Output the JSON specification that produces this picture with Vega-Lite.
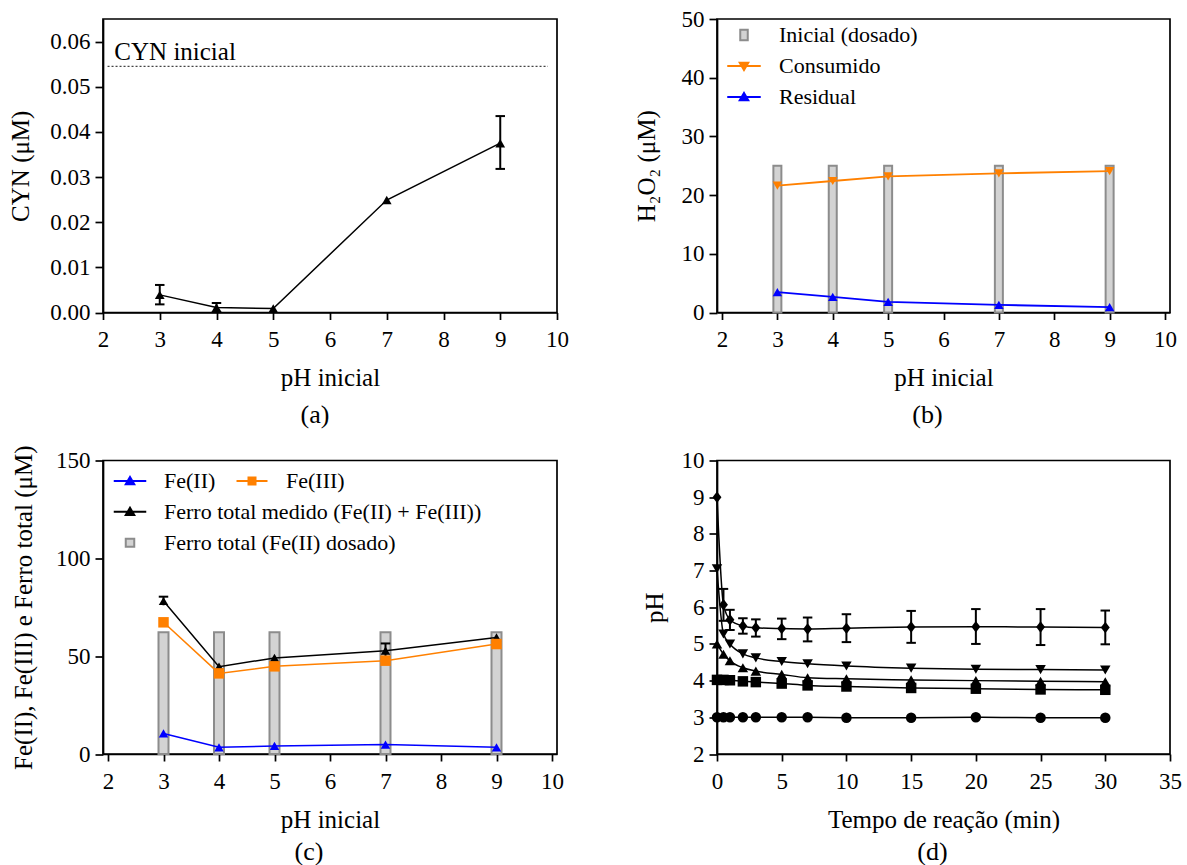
{
  "$schema": "https://vega.github.io/schema/vega-lite/v6.json",
  "background": "white",
  "padding": {"left": 7, "top": 7, "right": 10, "bottom": 0},
  "columns": 2,
  "bounds": "flush",
  "spacing": {"row": 147.5, "column": 160},
  "resolve": {
    "scale": {"fill": "independent", "stroke": "independent", "shape": "independent"},
    "legend": {"fill": "independent", "stroke": "independent", "shape": "independent"}
  },
  "datasets": {
    "a_pts": [
      {"ph": 3, "cyn": 0.0039},
      {"ph": 4, "cyn": 0.0011},
      {"ph": 5, "cyn": 0.0009},
      {"ph": 7, "cyn": 0.0249},
      {"ph": 9, "cyn": 0.0375}
    ],
    "a_err": [
      {"ph": 3, "lo": 0.0018, "hi": 0.0061},
      {"ph": 4, "lo": 0.0001, "hi": 0.0021},
      {"ph": 9, "lo": 0.0318, "hi": 0.0435}
    ],
    "a_ref": [
      {"label": "CYN inicial", "cyn": 0.0545, "x0": 2.08, "x1": 9.84, "xt": 2.2}
    ],
    "b_bars": [
      {"ph": 3, "v": 25}, {"ph": 4, "v": 25}, {"ph": 5, "v": 25}, {"ph": 7, "v": 25}, {"ph": 9, "v": 25}
    ],
    "b_pts": [
      {"ph": 3, "cons": 21.6, "res": 3.46},
      {"ph": 4, "cons": 22.4, "res": 2.66},
      {"ph": 5, "cons": 23.2, "res": 1.8},
      {"ph": 7, "cons": 23.7, "res": 1.3},
      {"ph": 9, "cons": 24.1, "res": 0.9}
    ],
    "b_leg": [
      {"serie": "Inicial (dosado)"}, {"serie": "Consumido"}, {"serie": "Residual"}
    ],
    "c_bars": [
      {"ph": 3, "v": 62.2}, {"ph": 4, "v": 62.2}, {"ph": 5, "v": 62.2}, {"ph": 7, "v": 62.2}, {"ph": 9, "v": 62.2}
    ],
    "c_pts": [
      {"ph": 3, "fe2": 10.5, "fe3": 67.3, "total": 78.2},
      {"ph": 4, "fe2": 3.4, "fe3": 41.2, "total": 44.6},
      {"ph": 5, "fe2": 4.1, "fe3": 44.8, "total": 49.1},
      {"ph": 7, "fe2": 4.8, "fe3": 47.7, "total": 52.8},
      {"ph": 9, "fe2": 3.4, "fe3": 56.2, "total": 59.6}
    ],
    "c_err": [
      {"ph": 3, "lo": 76.0, "hi": 80.4},
      {"ph": 7, "lo": 49.1, "hi": 56.5}
    ],
    "c_leg1": [{"serie": "Fe(II)"}, {"serie": "Fe(III)"}],
    "c_leg2": [{"serie2": "Ferro total medido (Fe(II) + Fe(III))"}, {"serie2": "Ferro total (Fe(II) dosado)"}],
    "d_pts": [
      {"t": 0, "ph": 3.0, "serie": "pH 3"}, {"t": 0.5, "ph": 3.0, "serie": "pH 3"}, {"t": 1, "ph": 3.0, "serie": "pH 3"}, {"t": 2, "ph": 3.0, "serie": "pH 3"}, {"t": 3, "ph": 3.0, "serie": "pH 3"}, {"t": 5, "ph": 3.0, "serie": "pH 3"}, {"t": 7, "ph": 3.0, "serie": "pH 3"}, {"t": 10, "ph": 2.99, "serie": "pH 3"}, {"t": 15, "ph": 2.99, "serie": "pH 3"}, {"t": 20, "ph": 3.0, "serie": "pH 3"}, {"t": 25, "ph": 2.99, "serie": "pH 3"}, {"t": 30, "ph": 2.99, "serie": "pH 3"},
      {"t": 0, "ph": 4.02, "serie": "pH 4"}, {"t": 0.5, "ph": 4.02, "serie": "pH 4"}, {"t": 1, "ph": 4.01, "serie": "pH 4"}, {"t": 2, "ph": 3.98, "serie": "pH 4"}, {"t": 3, "ph": 3.96, "serie": "pH 4"}, {"t": 5, "ph": 3.92, "serie": "pH 4"}, {"t": 7, "ph": 3.87, "serie": "pH 4"}, {"t": 10, "ph": 3.84, "serie": "pH 4"}, {"t": 15, "ph": 3.8, "serie": "pH 4"}, {"t": 20, "ph": 3.78, "serie": "pH 4"}, {"t": 25, "ph": 3.76, "serie": "pH 4"}, {"t": 30, "ph": 3.75, "serie": "pH 4"},
      {"t": 0, "ph": 5.0, "serie": "pH 5"}, {"t": 0.5, "ph": 4.72, "serie": "pH 5"}, {"t": 1, "ph": 4.54, "serie": "pH 5"}, {"t": 2, "ph": 4.35, "serie": "pH 5"}, {"t": 3, "ph": 4.26, "serie": "pH 5"}, {"t": 5, "ph": 4.17, "serie": "pH 5"}, {"t": 7, "ph": 4.08, "serie": "pH 5"}, {"t": 10, "ph": 4.05, "serie": "pH 5"}, {"t": 15, "ph": 4.02, "serie": "pH 5"}, {"t": 20, "ph": 4.0, "serie": "pH 5"}, {"t": 25, "ph": 3.98, "serie": "pH 5"}, {"t": 30, "ph": 3.97, "serie": "pH 5"},
      {"t": 0, "ph": 7.05, "serie": "pH 7"}, {"t": 0.5, "ph": 5.27, "serie": "pH 7"}, {"t": 1, "ph": 5.0, "serie": "pH 7"}, {"t": 2, "ph": 4.73, "serie": "pH 7"}, {"t": 3, "ph": 4.62, "serie": "pH 7"}, {"t": 5, "ph": 4.52, "serie": "pH 7"}, {"t": 7, "ph": 4.46, "serie": "pH 7"}, {"t": 10, "ph": 4.4, "serie": "pH 7"}, {"t": 15, "ph": 4.34, "serie": "pH 7"}, {"t": 20, "ph": 4.31, "serie": "pH 7"}, {"t": 25, "ph": 4.3, "serie": "pH 7"}, {"t": 30, "ph": 4.29, "serie": "pH 7"},
      {"t": 0, "ph": 9.0, "serie": "pH 9"}, {"t": 0.5, "ph": 6.07, "serie": "pH 9"}, {"t": 1, "ph": 5.66, "serie": "pH 9"}, {"t": 2, "ph": 5.49, "serie": "pH 9"}, {"t": 3, "ph": 5.44, "serie": "pH 9"}, {"t": 5, "ph": 5.42, "serie": "pH 9"}, {"t": 7, "ph": 5.41, "serie": "pH 9"}, {"t": 10, "ph": 5.43, "serie": "pH 9"}, {"t": 15, "ph": 5.46, "serie": "pH 9"}, {"t": 20, "ph": 5.47, "serie": "pH 9"}, {"t": 25, "ph": 5.46, "serie": "pH 9"}, {"t": 30, "ph": 5.45, "serie": "pH 9"}
    ],
    "d_err": [
      {"t": 0.5, "lo": 5.63, "hi": 6.5},
      {"t": 1, "lo": 5.38, "hi": 5.93},
      {"t": 2, "lo": 5.28, "hi": 5.7},
      {"t": 3, "lo": 5.2, "hi": 5.67},
      {"t": 5, "lo": 5.13, "hi": 5.69},
      {"t": 7, "lo": 5.07, "hi": 5.72},
      {"t": 10, "lo": 5.05, "hi": 5.81},
      {"t": 15, "lo": 5.03, "hi": 5.9},
      {"t": 20, "lo": 5.0, "hi": 5.95},
      {"t": 25, "lo": 4.97, "hi": 5.95},
      {"t": 30, "lo": 4.99, "hi": 5.91}
    ]
  },
  "concat": [
    {
      "width": 454,
      "height": 293.5,
      "title": {"text": "(a)", "dx": -15},
      "layer": [
        {
          "data": {"name": "a_ref"},
          "mark": {"type": "rule", "strokeDash": [2, 2], "strokeWidth": 1.2, "color": "#444444"},
          "encoding": {
            "x": {"field": "x0", "type": "quantitative", "title": "pH inicial", "scale": {"domain": [2, 10], "nice": false, "zero": false}, "axis": {"values": [2, 3, 4, 5, 6, 7, 8, 9, 10], "format": "d"}},
            "x2": {"field": "x1"},
            "y": {"field": "cyn", "type": "quantitative", "title": "CYN (μM)", "scale": {"domain": [0, 0.065], "nice": false}, "axis": {"values": [0, 0.01, 0.02, 0.03, 0.04, 0.05, 0.06], "format": ".2f", "titlePadding": 16.5}}
          }
        },
        {
          "data": {"name": "a_ref"},
          "mark": {"type": "text", "align": "left", "baseline": "alphabetic", "dy": -6.5, "fontSize": 25, "font": "Liberation Serif", "color": "black"},
          "encoding": {
            "x": {"field": "xt", "type": "quantitative", "title": "pH inicial", "scale": {"domain": [2, 10], "nice": false, "zero": false}, "axis": {"values": [2, 3, 4, 5, 6, 7, 8, 9, 10], "format": "d"}},
            "y": {"field": "cyn", "type": "quantitative", "title": "CYN (μM)", "scale": {"domain": [0, 0.065], "nice": false}, "axis": {"values": [0, 0.01, 0.02, 0.03, 0.04, 0.05, 0.06], "format": ".2f", "titlePadding": 16.5}},
            "text": {"field": "label"}
          }
        },
        {
          "data": {"name": "a_err"},
          "mark": {"type": "rule", "color": "black", "strokeWidth": 2},
          "encoding": {
            "x": {"field": "ph", "type": "quantitative", "title": "pH inicial", "scale": {"domain": [2, 10], "nice": false, "zero": false}, "axis": {"values": [2, 3, 4, 5, 6, 7, 8, 9, 10], "format": "d"}},
            "y": {"field": "lo", "type": "quantitative", "title": "CYN (μM)", "scale": {"domain": [0, 0.065], "nice": false}, "axis": {"values": [0, 0.01, 0.02, 0.03, 0.04, 0.05, 0.06], "format": ".2f", "titlePadding": 16.5}},
            "y2": {"field": "hi"}
          }
        },
        {
          "data": {"name": "a_err"},
          "mark": {"type": "point", "shape": "stroke", "size": 90, "color": "black", "strokeWidth": 2, "filled": false, "opacity": 1},
          "encoding": {
            "x": {"field": "ph", "type": "quantitative", "title": "pH inicial", "scale": {"domain": [2, 10], "nice": false, "zero": false}, "axis": {"values": [2, 3, 4, 5, 6, 7, 8, 9, 10], "format": "d"}},
            "y": {"field": "lo", "type": "quantitative", "title": "CYN (μM)", "scale": {"domain": [0, 0.065], "nice": false}, "axis": {"values": [0, 0.01, 0.02, 0.03, 0.04, 0.05, 0.06], "format": ".2f", "titlePadding": 16.5}}
          }
        },
        {
          "data": {"name": "a_err"},
          "mark": {"type": "point", "shape": "stroke", "size": 90, "color": "black", "strokeWidth": 2, "filled": false, "opacity": 1},
          "encoding": {
            "x": {"field": "ph", "type": "quantitative", "title": "pH inicial", "scale": {"domain": [2, 10], "nice": false, "zero": false}, "axis": {"values": [2, 3, 4, 5, 6, 7, 8, 9, 10], "format": "d"}},
            "y": {"field": "hi", "type": "quantitative", "title": "CYN (μM)", "scale": {"domain": [0, 0.065], "nice": false}, "axis": {"values": [0, 0.01, 0.02, 0.03, 0.04, 0.05, 0.06], "format": ".2f", "titlePadding": 16.5}}
          }
        },
        {
          "data": {"name": "a_pts"},
          "mark": {"type": "line", "color": "black", "strokeWidth": 1.5},
          "encoding": {
            "x": {"field": "ph", "type": "quantitative", "title": "pH inicial", "scale": {"domain": [2, 10], "nice": false, "zero": false}, "axis": {"values": [2, 3, 4, 5, 6, 7, 8, 9, 10], "format": "d"}},
            "y": {"field": "cyn", "type": "quantitative", "title": "CYN (μM)", "scale": {"domain": [0, 0.065], "nice": false}, "axis": {"values": [0, 0.01, 0.02, 0.03, 0.04, 0.05, 0.06], "format": ".2f", "titlePadding": 16.5}}
          }
        },
        {
          "data": {"name": "a_pts"},
          "mark": {"type": "point", "shape": "triangle-up", "filled": true, "size": 95, "color": "black", "opacity": 1},
          "encoding": {
            "x": {"field": "ph", "type": "quantitative", "title": "pH inicial", "scale": {"domain": [2, 10], "nice": false, "zero": false}, "axis": {"values": [2, 3, 4, 5, 6, 7, 8, 9, 10], "format": "d"}},
            "y": {"field": "cyn", "type": "quantitative", "title": "CYN (μM)", "scale": {"domain": [0, 0.065], "nice": false}, "axis": {"values": [0, 0.01, 0.02, 0.03, 0.04, 0.05, 0.06], "format": ".2f", "titlePadding": 16.5}}
          }
        }
      ]
    },
    {
      "width": 453,
      "height": 293.5,
      "title": {"text": "(b)", "dx": -16},
      "layer": [
        {
          "data": {"name": "b_bars"},
          "mark": {"type": "bar", "width": 8, "fill": "#d3d3d3", "stroke": "#8c8c8c", "strokeWidth": 2},
          "encoding": {
            "x": {"field": "ph", "type": "quantitative", "title": "pH inicial", "scale": {"domain": [2, 10], "nice": false, "zero": false}, "axis": {"values": [2, 3, 4, 5, 6, 7, 8, 9, 10], "format": "d"}},
            "y": {"field": "v", "type": "quantitative", "title": "H₂O₂ (μM)", "scale": {"domain": [0, 50], "nice": false}, "axis": {"values": [0, 10, 20, 30, 40, 50], "format": "d", "titlePadding": 22}}
          }
        },
        {
          "data": {"name": "b_pts"},
          "mark": {"type": "line", "color": "#ff8000", "strokeWidth": 1.8},
          "encoding": {
            "x": {"field": "ph", "type": "quantitative", "title": "pH inicial", "scale": {"domain": [2, 10], "nice": false, "zero": false}, "axis": {"values": [2, 3, 4, 5, 6, 7, 8, 9, 10], "format": "d"}},
            "y": {"field": "cons", "type": "quantitative", "title": "H₂O₂ (μM)", "scale": {"domain": [0, 50], "nice": false}, "axis": {"values": [0, 10, 20, 30, 40, 50], "format": "d", "titlePadding": 22}}
          }
        },
        {
          "data": {"name": "b_pts"},
          "mark": {"type": "point", "shape": "triangle-down", "filled": true, "size": 90, "color": "#ff8000", "opacity": 1},
          "encoding": {
            "x": {"field": "ph", "type": "quantitative", "title": "pH inicial", "scale": {"domain": [2, 10], "nice": false, "zero": false}, "axis": {"values": [2, 3, 4, 5, 6, 7, 8, 9, 10], "format": "d"}},
            "y": {"field": "cons", "type": "quantitative", "title": "H₂O₂ (μM)", "scale": {"domain": [0, 50], "nice": false}, "axis": {"values": [0, 10, 20, 30, 40, 50], "format": "d", "titlePadding": 22}}
          }
        },
        {
          "data": {"name": "b_pts"},
          "mark": {"type": "line", "color": "#0000ff", "strokeWidth": 1.8},
          "encoding": {
            "x": {"field": "ph", "type": "quantitative", "title": "pH inicial", "scale": {"domain": [2, 10], "nice": false, "zero": false}, "axis": {"values": [2, 3, 4, 5, 6, 7, 8, 9, 10], "format": "d"}},
            "y": {"field": "res", "type": "quantitative", "title": "H₂O₂ (μM)", "scale": {"domain": [0, 50], "nice": false}, "axis": {"values": [0, 10, 20, 30, 40, 50], "format": "d", "titlePadding": 22}}
          }
        },
        {
          "data": {"name": "b_pts"},
          "mark": {"type": "point", "shape": "triangle-up", "filled": true, "size": 90, "color": "#0000ff", "opacity": 1},
          "encoding": {
            "x": {"field": "ph", "type": "quantitative", "title": "pH inicial", "scale": {"domain": [2, 10], "nice": false, "zero": false}, "axis": {"values": [2, 3, 4, 5, 6, 7, 8, 9, 10], "format": "d"}},
            "y": {"field": "res", "type": "quantitative", "title": "H₂O₂ (μM)", "scale": {"domain": [0, 50], "nice": false}, "axis": {"values": [0, 10, 20, 30, 40, 50], "format": "d", "titlePadding": 22}}
          }
        },
        {
          "data": {"name": "b_leg"},
          "mark": {"type": "point", "filled": true, "opacity": 0},
          "encoding": {
            "fill": {"field": "serie", "type": "nominal", "scale": {"domain": ["Inicial (dosado)", "Consumido", "Residual"], "range": ["#d3d3d3", "#ff8000", "#0000ff"]}, "legend": {"title": null, "orient": "none", "legendX": 16, "legendY": 5, "direction": "vertical", "labelOffset": 24}},
            "stroke": {"field": "serie", "type": "nominal", "scale": {"domain": ["Inicial (dosado)", "Consumido", "Residual"], "range": ["#8c8c8c", "#ff8000", "#0000ff"]}, "legend": {"title": null, "orient": "none", "legendX": 16, "legendY": 5, "direction": "vertical", "labelOffset": 24}},
            "shape": {"field": "serie", "type": "nominal", "scale": {"domain": ["Inicial (dosado)", "Consumido", "Residual"], "range": ["M-0.75,-1.05H0.75V1.05H-0.75Z", "M-3.35,0H3.35M-0.85,-0.65H0.85L0,0.8Z", "M-3.35,0H3.35M0,-0.8L0.85,0.65H-0.85Z"]}, "legend": {"title": null, "orient": "none", "legendX": 16, "legendY": 5, "direction": "vertical", "labelOffset": 24}}
          }
        }
      ]
    },
    {
      "width": 454,
      "height": 293.5,
      "title": {"text": "(c)", "dx": -21, "offset": 7},
      "resolve": {
        "scale": {"fill": "independent", "stroke": "independent", "shape": "independent"},
        "legend": {"fill": "independent", "stroke": "independent", "shape": "independent"}
      },
      "layer": [
        {
          "data": {"name": "c_bars"},
          "mark": {"type": "bar", "width": 10, "fill": "#d3d3d3", "stroke": "#8c8c8c", "strokeWidth": 2},
          "encoding": {
            "x": {"field": "ph", "type": "quantitative", "title": "pH inicial", "scale": {"domain": [2, 10], "nice": false, "zero": false}, "axis": {"values": [2, 3, 4, 5, 6, 7, 8, 9, 10], "format": "d"}},
            "y": {"field": "v", "type": "quantitative", "title": "Fe(II), Fe(III) e Ferro total (μM)", "scale": {"domain": [0, 150], "nice": false}, "axis": {"values": [0, 50, 100, 150], "format": "d", "titlePadding": 19}}
          }
        },
        {
          "data": {"name": "c_err"},
          "mark": {"type": "rule", "color": "black", "strokeWidth": 2},
          "encoding": {
            "x": {"field": "ph", "type": "quantitative", "title": "pH inicial", "scale": {"domain": [2, 10], "nice": false, "zero": false}, "axis": {"values": [2, 3, 4, 5, 6, 7, 8, 9, 10], "format": "d"}},
            "y": {"field": "lo", "type": "quantitative", "title": "Fe(II), Fe(III) e Ferro total (μM)", "scale": {"domain": [0, 150], "nice": false}, "axis": {"values": [0, 50, 100, 150], "format": "d", "titlePadding": 19}},
            "y2": {"field": "hi"}
          }
        },
        {
          "data": {"name": "c_err"},
          "mark": {"type": "point", "shape": "stroke", "size": 90, "color": "black", "strokeWidth": 2, "filled": false, "opacity": 1},
          "encoding": {
            "x": {"field": "ph", "type": "quantitative", "title": "pH inicial", "scale": {"domain": [2, 10], "nice": false, "zero": false}, "axis": {"values": [2, 3, 4, 5, 6, 7, 8, 9, 10], "format": "d"}},
            "y": {"field": "hi", "type": "quantitative", "title": "Fe(II), Fe(III) e Ferro total (μM)", "scale": {"domain": [0, 150], "nice": false}, "axis": {"values": [0, 50, 100, 150], "format": "d", "titlePadding": 19}}
          }
        },
        {
          "data": {"name": "c_pts"},
          "mark": {"type": "line", "color": "black", "strokeWidth": 1.5},
          "encoding": {
            "x": {"field": "ph", "type": "quantitative", "title": "pH inicial", "scale": {"domain": [2, 10], "nice": false, "zero": false}, "axis": {"values": [2, 3, 4, 5, 6, 7, 8, 9, 10], "format": "d"}},
            "y": {"field": "total", "type": "quantitative", "title": "Fe(II), Fe(III) e Ferro total (μM)", "scale": {"domain": [0, 150], "nice": false}, "axis": {"values": [0, 50, 100, 150], "format": "d", "titlePadding": 19}}
          }
        },
        {
          "data": {"name": "c_pts"},
          "mark": {"type": "point", "shape": "triangle-up", "filled": true, "size": 90, "color": "black", "opacity": 1},
          "encoding": {
            "x": {"field": "ph", "type": "quantitative", "title": "pH inicial", "scale": {"domain": [2, 10], "nice": false, "zero": false}, "axis": {"values": [2, 3, 4, 5, 6, 7, 8, 9, 10], "format": "d"}},
            "y": {"field": "total", "type": "quantitative", "title": "Fe(II), Fe(III) e Ferro total (μM)", "scale": {"domain": [0, 150], "nice": false}, "axis": {"values": [0, 50, 100, 150], "format": "d", "titlePadding": 19}}
          }
        },
        {
          "data": {"name": "c_pts"},
          "mark": {"type": "line", "color": "#ff8000", "strokeWidth": 1.5},
          "encoding": {
            "x": {"field": "ph", "type": "quantitative", "title": "pH inicial", "scale": {"domain": [2, 10], "nice": false, "zero": false}, "axis": {"values": [2, 3, 4, 5, 6, 7, 8, 9, 10], "format": "d"}},
            "y": {"field": "fe3", "type": "quantitative", "title": "Fe(II), Fe(III) e Ferro total (μM)", "scale": {"domain": [0, 150], "nice": false}, "axis": {"values": [0, 50, 100, 150], "format": "d", "titlePadding": 19}}
          }
        },
        {
          "data": {"name": "c_pts"},
          "mark": {"type": "point", "shape": "square", "filled": true, "size": 110, "color": "#ff8000", "opacity": 1},
          "encoding": {
            "x": {"field": "ph", "type": "quantitative", "title": "pH inicial", "scale": {"domain": [2, 10], "nice": false, "zero": false}, "axis": {"values": [2, 3, 4, 5, 6, 7, 8, 9, 10], "format": "d"}},
            "y": {"field": "fe3", "type": "quantitative", "title": "Fe(II), Fe(III) e Ferro total (μM)", "scale": {"domain": [0, 150], "nice": false}, "axis": {"values": [0, 50, 100, 150], "format": "d", "titlePadding": 19}}
          }
        },
        {
          "data": {"name": "c_pts"},
          "mark": {"type": "line", "color": "#0000ff", "strokeWidth": 1.5},
          "encoding": {
            "x": {"field": "ph", "type": "quantitative", "title": "pH inicial", "scale": {"domain": [2, 10], "nice": false, "zero": false}, "axis": {"values": [2, 3, 4, 5, 6, 7, 8, 9, 10], "format": "d"}},
            "y": {"field": "fe2", "type": "quantitative", "title": "Fe(II), Fe(III) e Ferro total (μM)", "scale": {"domain": [0, 150], "nice": false}, "axis": {"values": [0, 50, 100, 150], "format": "d", "titlePadding": 19}}
          }
        },
        {
          "data": {"name": "c_pts"},
          "mark": {"type": "point", "shape": "triangle-up", "filled": true, "size": 90, "color": "#0000ff", "opacity": 1},
          "encoding": {
            "x": {"field": "ph", "type": "quantitative", "title": "pH inicial", "scale": {"domain": [2, 10], "nice": false, "zero": false}, "axis": {"values": [2, 3, 4, 5, 6, 7, 8, 9, 10], "format": "d"}},
            "y": {"field": "fe2", "type": "quantitative", "title": "Fe(II), Fe(III) e Ferro total (μM)", "scale": {"domain": [0, 150], "nice": false}, "axis": {"values": [0, 50, 100, 150], "format": "d", "titlePadding": 19}}
          }
        },
        {
          "data": {"name": "c_leg1"},
          "mark": {"type": "point", "filled": true, "opacity": 0},
          "encoding": {
            "fill": {"field": "serie", "type": "nominal", "scale": {"domain": ["Fe(II)", "Fe(III)"], "range": ["#0000ff", "#ff8000"]}, "legend": {"title": null, "orient": "none", "legendX": 16, "legendY": 9.5, "direction": "horizontal", "columnPadding": 16, "labelOffset": 23}},
            "stroke": {"field": "serie", "type": "nominal", "scale": {"domain": ["Fe(II)", "Fe(III)"], "range": ["#0000ff", "#ff8000"]}, "legend": {"title": null, "orient": "none", "legendX": 16, "legendY": 9.5, "direction": "horizontal", "columnPadding": 16, "labelOffset": 23}},
            "shape": {"field": "serie", "type": "nominal", "scale": {"domain": ["Fe(II)", "Fe(III)"], "range": ["M-3.25,0H3.25M0,-0.8L0.85,0.65H-0.85Z", "M-3.1,0H3.1M-0.7,-0.7H0.7V0.7H-0.7Z"]}, "legend": {"title": null, "orient": "none", "legendX": 16, "legendY": 9.5, "direction": "horizontal", "columnPadding": 16, "labelOffset": 23}}
          }
        },
        {
          "data": {"name": "c_leg2"},
          "mark": {"type": "point", "filled": true, "opacity": 0},
          "encoding": {
            "fill": {"field": "serie2", "type": "nominal", "scale": {"domain": ["Ferro total medido (Fe(II) + Fe(III))", "Ferro total (Fe(II) dosado)"], "range": ["black", "#d3d3d3"]}, "legend": {"title": null, "orient": "none", "legendX": 16, "legendY": 40.3, "direction": "vertical", "labelOffset": 23}},
            "stroke": {"field": "serie2", "type": "nominal", "scale": {"domain": ["Ferro total medido (Fe(II) + Fe(III))", "Ferro total (Fe(II) dosado)"], "range": ["black", "#8c8c8c"]}, "legend": {"title": null, "orient": "none", "legendX": 16, "legendY": 40.3, "direction": "vertical", "labelOffset": 23}},
            "shape": {"field": "serie2", "type": "nominal", "scale": {"domain": ["Ferro total medido (Fe(II) + Fe(III))", "Ferro total (Fe(II) dosado)"], "range": ["M-3.25,0H3.25M0,-0.8L0.85,0.65H-0.85Z", "M-0.85,-0.8H0.85V0.8H-0.85Z"]}, "legend": {"title": null, "orient": "none", "legendX": 16, "legendY": 40.3, "direction": "vertical", "labelOffset": 23}}
          }
        }
      ]
    },
    {
      "width": 453,
      "height": 293.5,
      "title": {"text": "(d)", "dx": -11, "offset": 7},
      "layer": [
        {
          "data": {"name": "d_pts"},
          "mark": {"type": "line", "color": "black", "strokeWidth": 1.5, "interpolate": "monotone"},
          "encoding": {
            "x": {"field": "t", "type": "quantitative", "title": "Tempo de reação (min)", "scale": {"domain": [0, 35], "nice": false, "zero": false}, "axis": {"values": [0, 5, 10, 15, 20, 25, 30, 35], "format": "d"}},
            "y": {"field": "ph", "type": "quantitative", "title": "pH", "scale": {"domain": [2, 10], "nice": false, "zero": false}, "axis": {"values": [2, 3, 4, 5, 6, 7, 8, 9, 10], "format": "d", "titlePadding": 14}},
            "detail": {"field": "serie", "type": "nominal"}
          }
        },
        {
          "data": {"name": "d_err"},
          "mark": {"type": "rule", "color": "black", "strokeWidth": 2},
          "encoding": {
            "x": {"field": "t", "type": "quantitative", "title": "Tempo de reação (min)", "scale": {"domain": [0, 35], "nice": false, "zero": false}, "axis": {"values": [0, 5, 10, 15, 20, 25, 30, 35], "format": "d"}},
            "y": {"field": "lo", "type": "quantitative", "title": "pH", "scale": {"domain": [2, 10], "nice": false, "zero": false}, "axis": {"values": [2, 3, 4, 5, 6, 7, 8, 9, 10], "format": "d", "titlePadding": 14}},
            "y2": {"field": "hi"}
          }
        },
        {
          "data": {"name": "d_err"},
          "mark": {"type": "point", "shape": "stroke", "size": 90, "color": "black", "strokeWidth": 2, "filled": false, "opacity": 1},
          "encoding": {
            "x": {"field": "t", "type": "quantitative", "title": "Tempo de reação (min)", "scale": {"domain": [0, 35], "nice": false, "zero": false}, "axis": {"values": [0, 5, 10, 15, 20, 25, 30, 35], "format": "d"}},
            "y": {"field": "lo", "type": "quantitative", "title": "pH", "scale": {"domain": [2, 10], "nice": false, "zero": false}, "axis": {"values": [2, 3, 4, 5, 6, 7, 8, 9, 10], "format": "d", "titlePadding": 14}}
          }
        },
        {
          "data": {"name": "d_err"},
          "mark": {"type": "point", "shape": "stroke", "size": 90, "color": "black", "strokeWidth": 2, "filled": false, "opacity": 1},
          "encoding": {
            "x": {"field": "t", "type": "quantitative", "title": "Tempo de reação (min)", "scale": {"domain": [0, 35], "nice": false, "zero": false}, "axis": {"values": [0, 5, 10, 15, 20, 25, 30, 35], "format": "d"}},
            "y": {"field": "hi", "type": "quantitative", "title": "pH", "scale": {"domain": [2, 10], "nice": false, "zero": false}, "axis": {"values": [2, 3, 4, 5, 6, 7, 8, 9, 10], "format": "d", "titlePadding": 14}}
          }
        },
        {
          "data": {"name": "d_pts"},
          "mark": {"type": "point", "filled": true, "size": 110, "color": "black", "opacity": 1},
          "encoding": {
            "x": {"field": "t", "type": "quantitative", "title": "Tempo de reação (min)", "scale": {"domain": [0, 35], "nice": false, "zero": false}, "axis": {"values": [0, 5, 10, 15, 20, 25, 30, 35], "format": "d"}},
            "y": {"field": "ph", "type": "quantitative", "title": "pH", "scale": {"domain": [2, 10], "nice": false, "zero": false}, "axis": {"values": [2, 3, 4, 5, 6, 7, 8, 9, 10], "format": "d", "titlePadding": 14}},
            "shape": {"field": "serie", "type": "nominal", "scale": {"domain": ["pH 3", "pH 4", "pH 5", "pH 7", "pH 9"], "range": ["circle", "square", "triangle-up", "triangle-down", "M0,-1.1L0.85,0L0,1.1L-0.85,0Z"]}, "legend": null}
          }
        }
      ]
    }
  ],
  "config": {
    "font": "Liberation Serif",
    "view": {"stroke": "black", "strokeWidth": 1.7},
    "axis": {
      "domainColor": "black", "domainWidth": 1.7, "tickColor": "black", "tickWidth": 1.7, "tickSize": 7,
      "labelFont": "Liberation Serif", "labelFontSize": 23, "labelColor": "black",
      "titleFont": "Liberation Serif", "titleFontSize": 25, "titleFontWeight": "normal", "titleColor": "black",
      "grid": false, "labelFlush": false, "labelOverlap": false
    },
    "axisX": {"labelPadding": 9, "titlePadding": 14},
    "axisY": {"labelPadding": 5, "tickSize": 8},
    "title": {"font": "Liberation Serif", "fontSize": 26, "fontWeight": "normal", "color": "black", "orient": "bottom", "offset": 11},
    "legend": {
      "labelFont": "Liberation Serif", "labelFontSize": 22, "labelColor": "black", "labelLimit": 600,
      "symbolOpacity": 1, "symbolStrokeWidth": 2, "symbolSize": 100, "labelOffset": 22, "rowPadding": 9, "padding": 0
    }
  }
}
